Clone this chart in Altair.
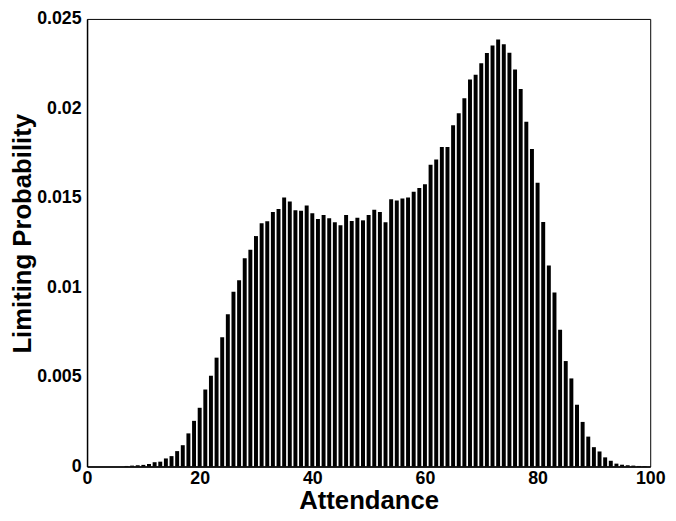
import altair as alt
import pandas as pd

attendance = list(range(0, 101))
probability = [
    0, 0, 0, 0, 0, 0, 0, 0.00003, 0.00005, 0.00007,
    0.00009, 0.00014, 0.00024, 0.00027, 0.00045, 0.00058, 0.00086, 0.00119, 0.00185, 0.00255,
    0.00328, 0.0043, 0.00507, 0.00608, 0.00722, 0.00851, 0.00976, 0.0104, 0.01163, 0.01211,
    0.01287, 0.01359, 0.0137, 0.01421, 0.01438, 0.01502, 0.0148, 0.01432, 0.01428, 0.01458,
    0.01414, 0.01382, 0.01405, 0.01386, 0.01364, 0.01348, 0.01405, 0.01371, 0.0139, 0.01375,
    0.01405, 0.01434, 0.01421, 0.01364, 0.01493, 0.01486, 0.01497, 0.01502, 0.01535, 0.01555,
    0.01577, 0.01686, 0.01715, 0.01785, 0.01785, 0.01906, 0.01973, 0.02057, 0.02161, 0.02188,
    0.02253, 0.0231, 0.02352, 0.02385, 0.02359, 0.02311, 0.02217, 0.02109, 0.01925, 0.01773,
    0.01585, 0.01366, 0.01123, 0.00972, 0.00764, 0.00589, 0.00492, 0.00345, 0.00249, 0.00167,
    0.00108, 0.00084, 0.00051, 0.00032, 0.00016, 0.0001, 0.00007, 0.00005, 0.00003, 0.00002,
    0,
]
x_ticks = [0, 20, 40, 60, 80, 100]
y_ticks = [0, 0.005, 0.01, 0.015, 0.02, 0.025]

df = pd.DataFrame({"Attendance": attendance, "Probability": probability})

FONT = "Liberation Sans"

chart = (
    alt.Chart(df)
    .mark_bar(color="black", size=4)
    .encode(
        x=alt.X(
            "Attendance:Q",
            scale=alt.Scale(domain=[0, 100], nice=False, zero=False, padding=0),
            axis=alt.Axis(
                values=x_ticks,
                title="Attendance",
                labelFlush=False,
                labelAlign="center",
                labelOverlap=False,
                labelPadding=3,
                titlePadding=1,
            ),
        ),
        y=alt.Y(
            "Probability:Q",
            scale=alt.Scale(domain=[0, 0.025], nice=False),
            axis=alt.Axis(
                values=y_ticks,
                format="~g",
                title="Limiting Probability",
                labelOverlap=False,
                labelPadding=6,
                titleX=-52,
                titleY=217,
            ),
        ),
    )
    .properties(
        width=570,
        height=453,
        autosize=alt.AutoSizeParams(type="none"),
        padding={"left": 80, "top": 8, "right": 18, "bottom": 44},
    )
    .configure_view(stroke="black", strokeWidth=1)
    .configure_axis(
        domainColor="black",
        domainWidth=1.5,
        ticks=False,
        grid=False,
        labelFont=FONT,
        labelFontSize=18,
        labelFontWeight="bold",
        labelColor="black",
        titleFont=FONT,
        titleFontSize=26,
        titleFontWeight="bold",
        titleColor="black",
    )
)

chart.save("out.html", embed_options={"renderer": "svg", "actions": False})
